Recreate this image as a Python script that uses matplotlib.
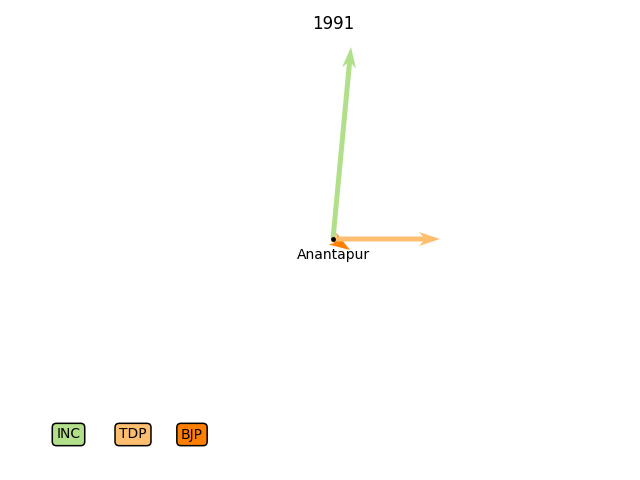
import matplotlib
matplotlib.use("Agg")
import matplotlib.pyplot as plt

title = "1991"
place = "Anantapur"
place_xy = [0.0, 0.0]
parties = ["INC", "TDP", "BJP"]
colors = ["#b2df8a", "#fdbf6f", "#ff7f00"]
dx_values = [18, 107, 17]
dy_values = [192, 0, -11]
draw_order = [2, 0, 1]
legend_x = [68.5, 133, 192]

W, H = 640, 480
fig = plt.figure(figsize=(6.4, 4.8), dpi=100)
ax = fig.add_axes([26 / W, (H - 443) / H, 614 / W, 406 / H])
ax.set_xlim(-307, 307)
ax.set_ylim(-204, 202)
ax.axis("off")
ax.set_title(title, fontsize=12)

for rank, i in enumerate(draw_order):
    ax.arrow(place_xy[0], place_xy[1], dx_values[i], dy_values[i],
             width=5, head_width=14, head_length=21, overhang=0.2,
             length_includes_head=True, color=colors[i], lw=0, zorder=2 + rank * 0.1)

ax.plot(place_xy[0], place_xy[1], "o", color="black", ms=3.5, mew=0, zorder=5)
ax.annotate(place, xy=(place_xy[0], place_xy[1]), xytext=(0, -16.5), textcoords="offset pixels",
            ha="center", va="center", fontsize=10, zorder=6)

for name, c, x in zip(parties, colors, legend_x):
    fig.text(x / W, (H - 434.5) / H, name, ha="center", va="center", fontsize=10,
             bbox=dict(boxstyle="round", facecolor=c, edgecolor="black", linewidth=1.1))

fig.savefig("out.png", dpi=100)
